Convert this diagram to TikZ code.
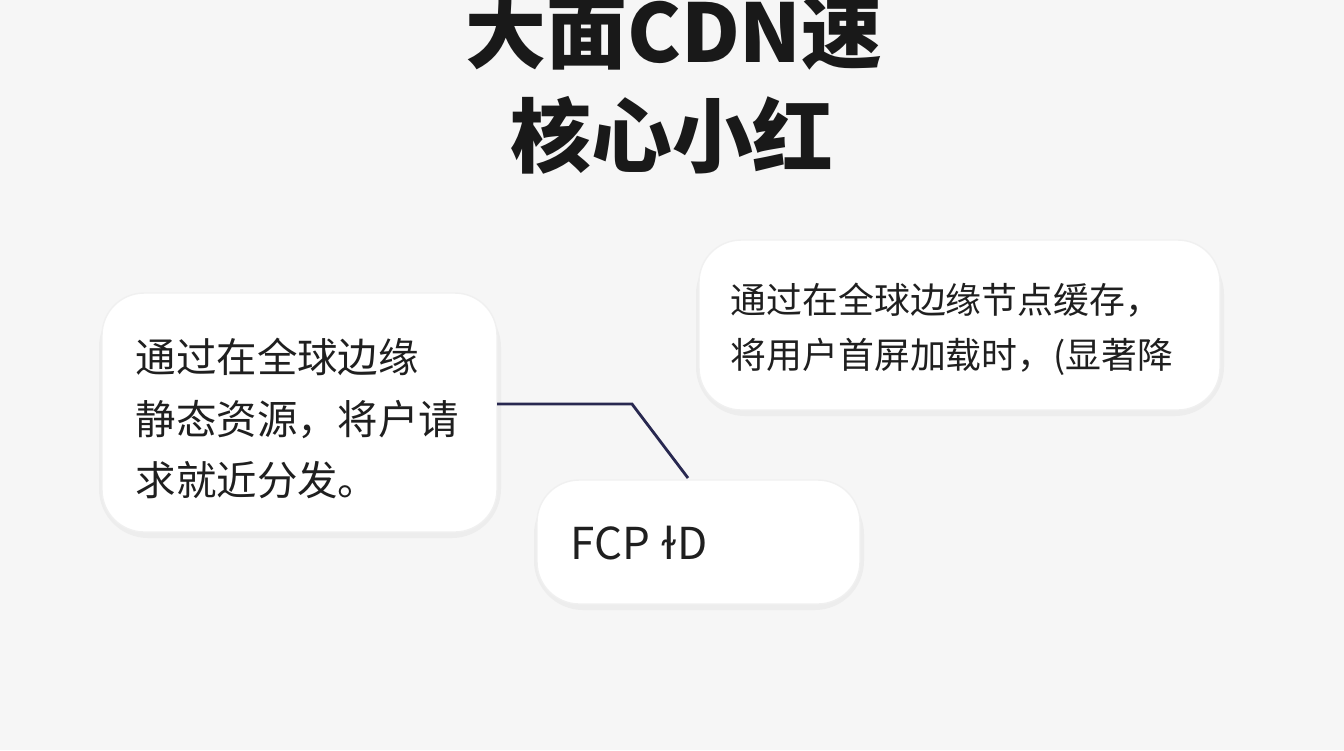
\documentclass[tikz,border=0pt]{standalone}
\usepackage{fontspec}
\setmainfont{Noto Sans CJK SC}
\newfontfamily\dejavu{DejaVu Sans}
\usetikzlibrary{positioning}

\begin{document}
\begin{tikzpicture}[x=0.01cm,y=-0.01cm,
	card/.style={fill=white, rounded corners=12, draw=black!6},
	shade/.style={fill=black!7, rounded corners=14},
	txt/.style={anchor=west, inner sep=0, font=\fontsize{11.5}{13}\selectfont, text=black!88}]
	\fill[black!3.5] (0,0) rectangle (1344,750);
	\useasboundingbox (0,0) rectangle (1344,750);
	% title
	\node[font=\fontsize{23}{26}\selectfont\bfseries, text=black!90] (t1) at (674,32) {大面CDN速};
	\node[font=\fontsize{23}{26}\selectfont\bfseries, text=black!90] (t2) at (672,135) {核心小红};
	% cards
	\fill[shade] (99,298) rectangle (501,538);
	\draw[card] (102,293) rectangle (497,532);
	\fill[shade] (696,245) rectangle (1224,416);
	\draw[card] (699,240) rectangle (1220,410);
	\fill[shade] (534,485) rectangle (864,610);
	\draw[card] (537,480) rectangle (860,604);
	\coordinate (l) at (497,404);
	\coordinate (b) at (688,478);
	% texts
	\node[txt] (l1) at (135,357) {通过在全球边缘};
	\node[txt] (l2) at (135,420) {静态资源，将户请};
	\node[txt] (l3) at (135,480) {求就近分发。};
	\node[txt, font=\fontsize{10.2}{12}\selectfont] (r1) at (730,300) {通过在全球边缘节点缓存，};
	\node[txt, font=\fontsize{10.2}{12}\selectfont] (r2) at (730,357) {将用户首屏加载时，(显著降};
	\node[txt, font=\fontsize{12.5}{14}\selectfont] (f) at (570,543) {FCP {\dejavu ɫ}D};
	% connector
	\draw[color={rgb,255:red,40;green,40;blue,80}, line width=0.8pt] (l) -- (632,404) -- (b);
\end{tikzpicture}
\end{document}
